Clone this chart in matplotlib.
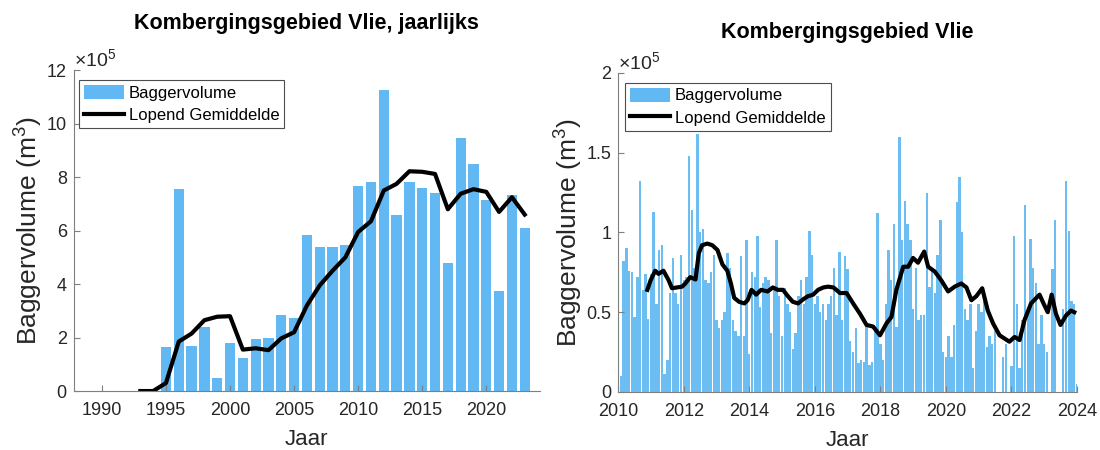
"""
plot.py
-------
Baggervolume Kombergingsgebied Vlie: yearly totals and monthly volumes,
each with a running mean.
"""
import numpy as np
import matplotlib
matplotlib.use("Agg")
import matplotlib.pyplot as plt
from matplotlib.patches import Patch
from matplotlib.lines import Line2D

plt.rcParams["font.family"] = ["Liberation Sans", "DejaVu Sans"]
plt.rcParams["mathtext.fontset"] = "custom"
plt.rcParams["mathtext.rm"] = "Liberation Sans"
plt.rcParams["mathtext.it"] = "Liberation Sans:italic"

# === Data (volumes in units of 1e5 m3) ===
years = list(range(1995, 2024))
yearly_volume = [
    1.63, 7.56, 1.68, 2.40, 0.50, 1.78, 1.23, 1.96, 2.00, 2.84,
    2.73, 5.84, 5.39, 5.39, 5.45, 7.68, 7.81, 11.25, 6.60, 7.80,
    7.58, 7.40, 4.80, 9.48, 8.50, 7.15, 3.75, 7.34, 6.09,
]
mean_years = list(range(1993, 2024))
yearly_mean = [
    0.0, 0.0, 0.30, 1.85, 2.15, 2.65, 2.78, 2.80, 1.55, 1.60,
    1.53, 1.97, 2.20, 3.20, 3.95, 4.50, 5.00, 5.95, 6.35, 7.50,
    7.75, 8.22, 8.20, 8.12, 6.80, 7.38, 7.55, 7.45, 6.70, 7.25,
    6.60,
]

# monthly volumes, Jan 2010 .. Dec 2023
monthly_volume = [
    # 2010
    0.10, 0.82, 0.90, 0.76, 0.75, 0.47, 0.72, 1.32, 0.64, 0.74, 0.46, 0.74,
    # 2011
    1.13, 0.55, 0.89, 0.92, 0.11, 0.20, 0.62, 0.84, 0.62, 0.55, 0.86, 0.70,
    # 2012
    0.72, 1.48, 1.14, 0.78, 1.62, 1.00, 1.02, 0.70, 0.68, 0.75, 0.86, 0.45,
    # 2013
    0.40, 0.45, 0.50, 0.87, 0.78, 0.45, 0.38, 0.35, 0.85, 0.35, 0.95, 0.24,
    # 2014
    0.75, 0.72, 0.98, 0.53, 0.68, 0.72, 0.70, 0.37, 0.65, 0.95, 0.60, 0.35,
    # 2015
    0.65, 0.55, 0.50, 0.27, 0.37, 0.60, 0.70, 0.55, 0.72, 1.01, 0.86, 0.55,
    # 2016
    0.60, 0.50, 0.55, 0.45, 0.55, 0.60, 0.78, 0.48, 0.88, 0.45, 0.85, 0.77,
    # 2017
    0.32, 0.25, 0.40, 0.18, 0.20, 0.19, 0.42, 0.17, 0.19, 0.40, 1.12, 0.30,
    # 2018
    0.20, 0.55, 0.89, 0.70, 1.05, 0.41, 1.60, 0.95, 1.20, 1.05, 0.95, 0.52,
    # 2019
    0.78, 0.45, 0.48, 0.48, 1.25, 0.66, 0.76, 0.62, 0.86, 1.08, 0.25, 0.22,
    # 2020
    0.35, 0.22, 0.42, 1.19, 1.35, 1.00, 0.52, 0.45, 0.55, 0.15, 0.38, 0.55,
    # 2021
    0.50, 0.63, 0.28, 0.35, 0.30, 0.38, 0.00, 0.00, 0.22, 0.30, 0.00, 0.16,
    # 2022
    0.98, 0.55, 0.15, 0.45, 1.17, 0.50, 0.96, 0.78, 0.68, 0.30, 0.48, 0.30,
    # 2023
    0.25, 0.00, 0.77, 1.08, 0.00, 0.00, 0.52, 1.32, 1.01, 0.57, 0.55, 0.05,
]

# running mean of the monthly series
monthly_mean_t = [
    2010.89, 2010.99, 2011.13, 2011.23, 2011.38, 2011.54, 2011.64, 2011.79,
    2011.95, 2012.05, 2012.20, 2012.36, 2012.46, 2012.56, 2012.72, 2012.87,
    2013.03, 2013.18, 2013.33, 2013.44, 2013.54, 2013.69, 2013.85, 2013.95,
    2014.07, 2014.21, 2014.36, 2014.56, 2014.72, 2014.87, 2015.03, 2015.18,
    2015.33, 2015.49, 2015.64, 2015.79, 2015.95, 2016.10, 2016.26, 2016.41,
    2016.57, 2016.77, 2016.97, 2017.17, 2017.38, 2017.58, 2017.78, 2017.99,
    2018.19, 2018.34, 2018.49, 2018.70, 2018.85, 2019.00, 2019.15, 2019.34,
    2019.46, 2019.66, 2019.86, 2020.07, 2020.27, 2020.47, 2020.63, 2020.78,
    2020.93, 2021.11, 2021.28, 2021.44, 2021.64, 2021.79, 2021.94, 2022.10,
    2022.25, 2022.40, 2022.60, 2022.86, 2022.98, 2023.11, 2023.23, 2023.36,
    2023.50, 2023.67, 2023.82, 2023.92,
]
monthly_mean = [
    0.64, 0.70, 0.76, 0.74, 0.76, 0.70, 0.65, 0.655,
    0.66, 0.68, 0.72, 0.705, 0.87, 0.92, 0.93, 0.92,
    0.89, 0.80, 0.76, 0.68, 0.59, 0.565, 0.555, 0.575,
    0.64, 0.61, 0.64, 0.63, 0.655, 0.64, 0.64, 0.60,
    0.565, 0.555, 0.58, 0.60, 0.61, 0.64, 0.655, 0.66,
    0.655, 0.62, 0.62, 0.555, 0.49, 0.42, 0.41, 0.355,
    0.43, 0.47, 0.64, 0.785, 0.785, 0.84, 0.81, 0.88,
    0.785, 0.755, 0.70, 0.63, 0.66, 0.68, 0.655, 0.575,
    0.60, 0.65, 0.51, 0.43, 0.355, 0.335, 0.315, 0.345,
    0.325, 0.45, 0.555, 0.61, 0.555, 0.50, 0.61, 0.49,
    0.42, 0.48, 0.51, 0.50,
]

BAR_COLOR = "#62B8F2"
AXIS_GREY = "#262626"


def style_axes(ax):
    """MATLAB-like look: box off, inward ticks, grey axes."""
    ax.spines["top"].set_visible(False)
    ax.spines["right"].set_visible(False)
    for side in ("left", "bottom"):
        ax.spines[side].set_color("#7f7f7f")
        ax.spines[side].set_linewidth(0.8)
    ax.tick_params(direction="in", length=4, width=0.8, color="#7f7f7f",
                   labelsize=13, labelcolor=AXIS_GREY)
    ax.tick_params(axis="x", pad=8)
    ax.tick_params(axis="y", pad=5)
    ax.set_xlabel("Jaar", fontsize=16, color=AXIS_GREY, labelpad=7)
    ax.set_ylabel("Baggervolume (m$^3$)", fontsize=19, color=AXIS_GREY,
                  labelpad=1)
    ax.text(0.0, 1.0, r"$\times$10$^5$", transform=ax.transAxes,
            fontsize=14, color=AXIS_GREY, ha="left", va="bottom")


def add_legend(ax, anchor):
    handles = [Patch(facecolor=BAR_COLOR, edgecolor="none"),
               Line2D([], [], color="black", lw=3)]
    leg = ax.legend(handles, ["Baggervolume", "Lopend Gemiddelde"],
                    loc="upper left", bbox_to_anchor=anchor, borderaxespad=0,
                    fontsize=12, fancybox=False, framealpha=1,
                    edgecolor="#4d4d4d", handlelength=2.4, handleheight=0.9,
                    handletextpad=0.3, borderpad=0.3, labelspacing=0.4)
    leg.get_frame().set_linewidth(0.8)


fig = plt.figure(figsize=(11, 4.5), dpi=100)

# === Left: yearly ===
ax1 = fig.add_axes([0.067, 0.131, 0.424, 0.713])
ax1.bar(years, yearly_volume, width=0.8, color=BAR_COLOR)
ax1.plot(mean_years, yearly_mean, color="black", lw=3)
ax1.set_xlim(1987.8, 2024.2)
ax1.set_ylim(0, 12)
ax1.set_xticks(range(1990, 2021, 5))
ax1.set_yticks(range(0, 13, 2))
style_axes(ax1)
ax1.set_title("Kombergingsgebied Vlie, jaarlijks", fontsize=15.5,
              fontweight="bold", pad=30)
add_legend(ax1, (0.011, 0.969))

# === Right: monthly ===
ax2 = fig.add_axes([0.562, 0.129, 0.417, 0.709])
month_pos = 2010 + (np.arange(len(monthly_volume)) + 1) / 12
ax2.bar(month_pos, monthly_volume, width=0.88 / 12, color="#6CBEF2")
ax2.plot(monthly_mean_t, monthly_mean, color="black", lw=3)
ax2.set_xlim(2010, 2024)
ax2.set_ylim(0, 2)
ax2.set_xticks(range(2010, 2025, 2))
ax2.set_yticks([0, 0.5, 1, 1.5, 2])
ax2.set_yticklabels(["0", "0.5", "1", "1.5", "2"])
style_axes(ax2)
ax2.set_title("Kombergingsgebied Vlie", fontsize=15.5, fontweight="bold",
              pad=25)
add_legend(ax2, (0.015, 0.969))

fig.savefig("out.png", dpi=100)
